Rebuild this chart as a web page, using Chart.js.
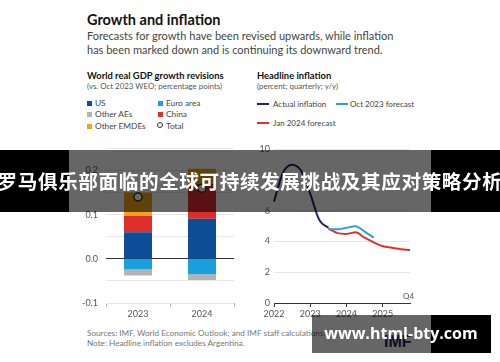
<!DOCTYPE html>
<html>
<head>
<meta charset="utf-8">
<script src="https://cdn.jsdelivr.net/npm/chart.js@4"></script>
<style>
  body { margin: 0; background: #fff; font-family: Lato, "Open Sans", sans-serif; }
  #page { position: relative; width: 500px; height: 362px; overflow: hidden; background: #fff; }
  .t { position: absolute; white-space: nowrap; line-height: 1; }
  canvas { position: absolute; }
  .sq { position: absolute; width: 5px; height: 5px; }
  .ln { position: absolute; width: 12px; height: 2px; }
</style>
</head>
<body>
<div id="page">
  <div class="t" style="left:87px;top:13px;font-size:14.5px;font-weight:bold;color:#111">Growth and inflation</div>
  <div class="t" style="left:87px;top:30px;font-size:11px;color:#444">Forecasts for growth have been revised upwards, while inflation</div>
  <div class="t" style="left:87px;top:44px;font-size:11px;color:#444">has been marked down and is continuing its downward trend.</div>

  <div class="t" style="left:87px;top:71px;font-size:9.4px;font-weight:bold;color:#111">World real GDP growth revisions</div>
  <div class="t" style="left:87px;top:83px;font-size:7.9px;color:#555">(vs. Oct 2023 WEO; percentage points)</div>
  <div class="sq" style="left:87px;top:101px;background:#0d4c97"></div>
  <div class="t" style="left:95px;top:99px;font-size:8.3px;color:#444">US</div>
  <div class="sq" style="left:87px;top:112px;background:#b3b3b3"></div>
  <div class="t" style="left:95px;top:110px;font-size:8.3px;color:#444">Other AEs</div>
  <div class="sq" style="left:87px;top:124px;background:#f2a31b"></div>
  <div class="t" style="left:95px;top:122px;font-size:8.3px;color:#444">Other EMDEs</div>
  <div class="sq" style="left:158px;top:101px;background:#1aa0dc"></div>
  <div class="t" style="left:166px;top:99px;font-size:8.3px;color:#444">Euro area</div>
  <div class="sq" style="left:158px;top:112px;background:#dc2e2a"></div>
  <div class="t" style="left:166px;top:110px;font-size:8.3px;color:#444">China</div>
  <div class="sq" style="left:157px;top:122px;width:4px;height:4px;border:1.2px solid #333;border-radius:50%;background:#fff"></div>
  <div class="t" style="left:166px;top:122px;font-size:8.3px;color:#444">Total</div>

  <div class="t" style="left:257px;top:71px;font-size:9.4px;font-weight:bold;color:#111">Headline inflation</div>
  <div class="t" style="left:257px;top:83px;font-size:7.9px;color:#555">(percent; quarterly; y/y)</div>
  <div class="ln" style="left:257px;top:103px;background:#1f2a5a"></div>
  <div class="t" style="left:273px;top:100px;font-size:8px;color:#444">Actual inflation</div>
  <div class="ln" style="left:336px;top:103px;background:#2a9fd8"></div>
  <div class="t" style="left:350px;top:100px;font-size:8px;color:#444">Oct 2023 forecast</div>
  <div class="ln" style="left:257px;top:122px;background:#e0302b"></div>
  <div class="t" style="left:273px;top:119px;font-size:8px;color:#444">Jan 2024 forecast</div>

  <canvas id="gdp" width="160" height="190" style="left:80px;top:135px"></canvas>
  <canvas id="infl" width="165" height="185" style="left:250px;top:140px"></canvas>
  <div class="t" style="left:403px;top:292px;font-size:8px;color:#555">Q4</div>

  <div class="t" style="left:87px;top:329px;font-size:8.2px;color:#777">Sources: IMF, World Economic Outlook; and IMF staff calculations.</div>
  <div class="t" style="left:87px;top:339px;font-size:8.2px;color:#777">Note: Headline inflation excludes Argentina.</div>
  <div class="t" style="left:384px;top:334px;font-size:16px;font-weight:bold;color:#1b2a5c;font-family:'Liberation Sans',sans-serif">IMF</div>

  <!-- overlay banner -->
  <div style="position:absolute;left:0;top:150px;width:69px;height:62px;background:#000"></div>
  <div style="position:absolute;left:69px;top:150px;width:362px;height:62px;background:rgba(0,0,0,0.6)"></div>
  <div style="position:absolute;left:431px;top:150px;width:69px;height:62px;background:#000"></div>
  <div class="t" style="left:-10px;top:171px;width:520px;text-align:center;font-size:19.6px;letter-spacing:0.6px;font-weight:bold;color:#fff;font-family:'Noto Sans CJK SC',sans-serif">罗马俱乐部面临的全球可持续发展挑战及其应对策略分析</div>

  <!-- watermark -->
  <div style="position:absolute;left:312px;top:315px;width:119px;height:38px;background:rgba(0,0,0,0.6)"></div>
  <div style="position:absolute;left:431px;top:315px;width:60px;height:38px;background:#000"></div>
  <div class="t" style="left:316px;top:325px;width:170px;text-align:center;font-size:16px;font-weight:bold;color:#fff;font-family:'Open Sans',sans-serif">www.html-bty.com</div>
</div>
<script>
// GDP growth revisions (pp contributions)
const years = ['2023', '2024']
const us = [0.060, 0.091]
const china = [0.037, 0.079]
const otherEMDEs = [0.053, 0.034]
const euroArea = [-0.024, -0.035]
const otherAEs = [-0.014, -0.013]
const total = [0.14, 0.16]

// headline inflation, quarterly
const quarters = ['2022Q1', '2022Q2', '2022Q3', '2022Q4', '2023Q1', '2023Q2', '2023Q3', '2023Q4',
    '2024Q1', '2024Q2', '2024Q3', '2024Q4', '2025Q1', '2025Q2', '2025Q3', '2025Q4']
const actualInflation = [6.6, 8.5, 9.0, 8.6, 7.1, 5.4, 4.9, null, null, null, null, null, null, null, null, null]
const oct2023Forecast = [null, null, null, null, null, null, 4.8, 4.8, 4.9, 5.0, 4.65, 4.25, null, null, null, null]
const jan2024Forecast = [null, null, null, null, null, null, 4.85, 4.55, 4.5, 4.6, 4.25, 3.95, 3.7, 3.6, 3.5, 3.45]

Chart.defaults.font.family = 'Lato, "Open Sans", sans-serif'
Chart.defaults.color = '#555'
Chart.defaults.animation = false

const bar = (label, data, color) => ({ type: 'bar', label, data, backgroundColor: color, stack: 'a', order: 1 })

new Chart(document.getElementById('gdp'), {
    type: 'bar',
    data: {
        labels: years,
        datasets: [
            bar('US', us, '#0d4c97'),
            bar('China', china, '#dc2e2a'),
            bar('Other EMDEs', otherEMDEs, '#f2a31b'),
            bar('Euro area', euroArea, '#1aa0dc'),
            bar('Other AEs', otherAEs, '#b3b3b3'),
            {
                type: 'line', label: 'Total', data: total, stack: 'total', order: 0,
                showLine: false, pointRadius: 4, pointBackgroundColor: '#fff',
                pointBorderColor: '#333', pointBorderWidth: 1.5
            }
        ]
    },
    options: {
        responsive: false,
        layout: { padding: { top: 10.5, right: 6, left: 0, bottom: 0 } },
        datasets: { bar: { categoryPercentage: 1, barPercentage: 0.4375 } },
        plugins: { legend: { display: false }, tooltip: { enabled: false } },
        scales: {
            x: {
                stacked: true,
                border: { display: false },
                grid: { drawOnChartArea: false, tickLength: 4, color: '#bbb' },
                ticks: { font: { size: 9 }, padding: 2, maxRotation: 0 },
                afterFit: s => { s.height = 22 }
            },
            y: {
                stacked: true, min: -0.1, max: 0.25,
                border: { display: false },
                grid: {
                    drawTicks: false,
                    color: c => c.tick && Math.abs(c.tick.value) < 1e-9 ? '#333' : '#e8e8e8'
                },
                ticks: {
                    stepSize: 0.05, padding: 8, font: { size: 9 },
                    callback: v => Math.abs(Math.round(v * 100)) % 10 === 0 && v < 0.24 ? (Math.round(v * 10) / 10).toFixed(1) : ''
                },
                afterFit: s => { s.width = 26 }
            }
        }
    }
})

const line = (label, data, color) => ({
    label, data, borderColor: color, borderWidth: 2, pointRadius: 0,
    cubicInterpolationMode: 'monotone', spanGaps: false
})

new Chart(document.getElementById('infl'), {
    type: 'line',
    data: {
        labels: quarters,
        datasets: [
            line('Oct 2023 forecast', oct2023Forecast, '#2a9fd8'),
            line('Jan 2024 forecast', jan2024Forecast, '#e0302b'),
            line('Actual inflation', actualInflation, '#1f2a5a')
        ]
    },
    options: {
        responsive: false,
        layout: { padding: { top: 8, right: 5, left: 0, bottom: 0 } },
        plugins: { legend: { display: false }, tooltip: { enabled: false } },
        scales: {
            x: {
                border: { display: true, color: '#333', width: 1 },
                grid: {
                    drawOnChartArea: false, tickLength: 4,
                    tickColor: c => c.index % 4 === 0 ? '#333' : 'rgba(0,0,0,0)'
                },
                ticks: {
                    font: { size: 9 }, padding: 2, maxRotation: 0, autoSkip: false,
                    callback: (v, i) => i % 4 === 0 ? quarters[i].slice(0, 4) : ''
                },
                afterFit: s => { s.height = 22 }
            },
            y: {
                min: 0, max: 10,
                border: { display: false },
                grid: { drawTicks: false, color: '#e8e8e8' },
                ticks: { stepSize: 2, padding: 4, font: { size: 9 } },
                afterFit: s => { s.width = 24 }
            }
        }
    }
})
</script>
</body>
</html>
